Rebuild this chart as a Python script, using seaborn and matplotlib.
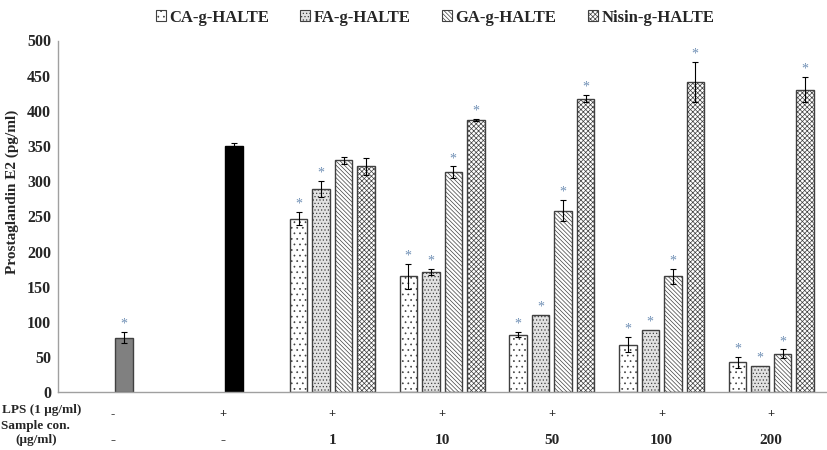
import numpy as np
import pandas as pd
import matplotlib
matplotlib.use("Agg")
import matplotlib.pyplot as plt
import matplotlib.transforms as mtransforms
from matplotlib.patches import Patch
import seaborn as sns

# groups on the x axis
groups = ["ctrl", "lps", "1", "10", "50", "100", "200"]
lps_row = ["-", "+", "+", "+", "+", "+", "+"]
conc_row = ["-", "-", "1", "10", "50", "100", "200"]
series = ["CA-g-HALTE", "FA-g-HALTE", "GA-g-HALTE", "Nisin-g-HALTE"]
treat_groups = ["1", "10", "50", "100", "200"]

# controls (drawn in the GA slot, like the original)
ctrl_val, ctrl_err, ctrl_sig = 78, 8, True
lps_val, lps_err, lps_sig = 350, 4, False

ca_mean = [247, 165, 82, 68, 43]
ca_err = [9, 18, 3.5, 11, 8]
ca_sig = [True, True, True, True, True]

fa_mean = [289, 171, 110, 89, 38]
fa_err = [12, 4.5, 0.5, 0, 0]
fa_sig = [True, True, True, True, True]

ga_mean = [330, 313, 258, 165, 55]
ga_err = [5, 8, 15, 11, 6]
ga_sig = [False, True, True, True, True]

nisin_mean = [321, 387, 417, 441, 430]
nisin_err = [12, 1, 5, 29, 18]
nisin_sig = [False, True, True, True, True]

# long table for seaborn
rows = [("ctrl", "GA-g-HALTE", ctrl_val, ctrl_err, ctrl_sig),
        ("lps", "GA-g-HALTE", lps_val, lps_err, lps_sig)]
for name, m, e, s in zip(series, [ca_mean, fa_mean, ga_mean, nisin_mean],
                         [ca_err, fa_err, ga_err, nisin_err],
                         [ca_sig, fa_sig, ga_sig, nisin_sig]):
    for g, v, ee, ss in zip(treat_groups, m, e, s):
        rows.append((g, name, v, ee, ss))
df = pd.DataFrame(rows, columns=["group", "series", "value", "err", "sig"])

hatches = {"CA-g-HALTE": "...", "FA-g-HALTE": ".....",
           "GA-g-HALTE": "\\\\\\\\\\\\\\\\", "Nisin-g-HALTE": "xxxxxxx"}
faces = {"CA-g-HALTE": "white", "FA-g-HALTE": "#e2e2e2",
         "GA-g-HALTE": "white", "Nisin-g-HALTE": "white"}
edge = "#404040"
star_color = "#6f8fb5"

sns.set_style("white")
plt.rcParams["font.family"] = ["Liberation Serif", "DejaVu Serif"]
plt.rcParams["font.weight"] = "bold"
plt.rcParams["hatch.linewidth"] = 0.5

fig = plt.figure(figsize=(8.27, 4.5), dpi=100)
ax = fig.add_axes([0.070, 0.128, 0.929, 0.782])

sns.barplot(data=df, x="group", y="value", hue="series", order=groups,
            hue_order=series, palette=["white"] * 4, edgecolor=edge,
            linewidth=1.0, errorbar=None, width=0.82, gap=0.22,
            legend=False, ax=ax)

# style each bar, add error bars and stars
for p in ax.patches:
    w = p.get_width()
    cx = p.get_x() + w / 2
    h = p.get_height()
    gi = int(round(cx))
    sub = df[(df["group"] == groups[gi]) & (np.isclose(df["value"], h))]
    if sub.empty:
        continue
    r = sub.iloc[0]
    if r["group"] == "ctrl":
        p.set_facecolor("#808080")
    elif r["group"] == "lps":
        p.set_facecolor("black")
        p.set_edgecolor("black")
    else:
        p.set_facecolor(faces[r["series"]])
        p.set_hatch(hatches[r["series"]])
    if r["err"] > 0.6:
        ax.errorbar(cx, h, yerr=r["err"], fmt="none", ecolor="black",
                    elinewidth=0.8, capsize=2.5, capthick=0.8, zorder=5)
    if r["sig"]:
        ax.annotate("*", (cx, h + r["err"]), xytext=(0, 1),
                    textcoords="offset points", ha="center", va="bottom",
                    color=star_color, fontsize=10, fontweight="normal")

ax.set_xlim(-0.5, 6.5)
ax.set_ylim(0, 500)
ax.set_yticks(np.arange(0, 501, 50))
ax.set_xticks(np.arange(-0.5, 7, 1))
ax.set_xticklabels([])
ax.set_xlabel("")
ax.set_ylabel("Prostaglandin E2 (pg/ml)", fontsize=11, fontweight="bold")
ax.yaxis.set_label_coords(-0.05, 0.571)
ax.tick_params(axis="y", labelsize=11.5, length=3, color="#a0a0a0", pad=2)
ax.tick_params(axis="x", length=4, color="#a0a0a0", direction="out")
for lab in ax.get_yticklabels():
    lab.set_fontweight("bold")
sns.despine(ax=ax)
for side in ["left", "bottom"]:
    ax.spines[side].set_color("#a0a0a0")
    ax.spines[side].set_linewidth(1.0)

# table rows under the axis
trans = mtransforms.blended_transform_factory(ax.transData, fig.transFigure)
for i, (a, b) in enumerate(zip(lps_row, conc_row)):
    ax.text(i, 1 - 414 / 450, a, transform=trans, ha="center", va="center",
            fontsize=9, fontweight="bold")
    ax.text(i, 1 - 441 / 450, b, transform=trans, ha="center", va="center",
            fontsize=11, fontweight="bold")
fig.text(0.003, 1 - 410 / 450, "LPS (1 \u03bcg/ml)", ha="left", va="center",
         fontsize=9.5, fontweight="bold")
fig.text(0.001, 1 - 426 / 450, "Sample con.", ha="left", va="center",
         fontsize=9.5, fontweight="bold")
fig.text(0.018, 1 - 440 / 450, "(\u03bcg/ml)", ha="left", va="center",
         fontsize=9.5, fontweight="bold")

# legend on top
handles = [Patch(facecolor=faces[s], edgecolor=edge, hatch=hatches[s],
                 linewidth=0.8, label=s) for s in series]
fig.legend(handles=handles, loc="upper center", bbox_to_anchor=(0.526, 1.012),
           ncol=4, frameon=False, handlelength=0.6, handleheight=0.6,
           handletextpad=0.2, columnspacing=1.9,
           prop={"family": "Liberation Serif", "weight": "bold", "size": 12})

fig.savefig("out.png", dpi=100)
